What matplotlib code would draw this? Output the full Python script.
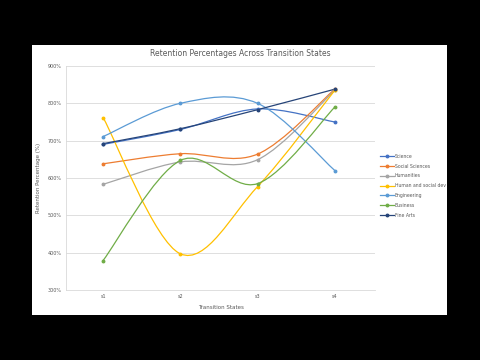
import matplotlib.pyplot as plt
import numpy as np
from matplotlib.patches import PathPatch
from matplotlib.path import Path

states = ["s1", "s2", "s3", "s4"]
science = [690, 730, 785, 750]
social_sciences = [638, 665, 664, 838]
humanities = [583, 643, 649, 835]
human_social_dev = [762, 397, 577, 835]
engineering = [711, 800, 800, 620]
business = [379, 647, 585, 790]
fine_arts = [692, 732, 783, 838]

series_names = ["Science", "Social Sciences", "Humanities", "Human and social dev",
                "Engineering", "Business", "Fine Arts"]
series_values = [science, social_sciences, humanities, human_social_dev,
                 engineering, business, fine_arts]
colors = ["#4472C4", "#ED7D31", "#A5A5A5", "#FFC000", "#5B9BD5", "#70AD47", "#264478"]
y_ticks = [300, 400, 500, 600, 700, 800, 900]


def smooth_path(xs, ys):
    # Catmull-Rom style bezier, like the spreadsheet's smoothed lines
    pts = np.column_stack([xs, ys]).astype(float)
    verts = [pts[0]]
    codes = [Path.MOVETO]
    for i in range(len(pts) - 1):
        p0 = pts[i - 1] if i > 0 else pts[i]
        p1, p2 = pts[i], pts[i + 1]
        p3 = pts[i + 2] if i + 2 < len(pts) else pts[i + 1]
        c1 = p1 + (p2 - p0) / 6.0
        c2 = p2 - (p3 - p1) / 6.0
        verts += [c1, c2, p2]
        codes += [Path.CURVE4] * 3
    return Path(verts, codes)


fig = plt.figure(figsize=(4.8, 3.6), dpi=100)
fig.patch.set_facecolor("black")

# white slide area behind the chart
bg = fig.add_axes([32 / 480, 45 / 360, 415 / 480, 270 / 360], zorder=-1)
bg.set_facecolor("white")
bg.set_xticks([])
bg.set_yticks([])
for s in bg.spines.values():
    s.set_visible(False)

ax = fig.add_axes([66 / 480, 70 / 360, 309 / 480, 224 / 360], zorder=1)
ax.set_facecolor("white")
x = np.arange(len(states))

for name, vals, col in zip(series_names, series_values, colors):
    ax.add_patch(PathPatch(smooth_path(x, vals), facecolor="none", edgecolor=col,
                           linewidth=0.9, zorder=3))
    ax.plot(x, vals, linestyle="none", marker="o", markersize=1.8, color=col, zorder=4)
    ax.plot([], [], color=col, linewidth=0.9, marker="o", markersize=1.8, label=name)

ax.set_xlim(-0.48, 3.52)
ax.set_ylim(300, 900)
ax.set_xticks(x)
ax.set_xticklabels(states)
ax.set_yticks(y_ticks)
ax.set_yticklabels([f"{v}%" for v in y_ticks])
ax.tick_params(axis="both", labelsize=3.5, colors="#595959", length=0, pad=3)
ax.grid(axis="y", color="#D9D9D9", linewidth=0.6)
ax.set_axisbelow(True)
for side in ["top", "right"]:
    ax.spines[side].set_visible(False)
ax.spines["left"].set_color("#D9D9D9")
ax.spines["bottom"].set_color("#D9D9D9")
ax.spines["left"].set_linewidth(0.6)
ax.spines["bottom"].set_linewidth(0.6)

ax.set_xlabel("Transition States", fontsize=4, color="#595959", labelpad=4)
ax.set_ylabel("Retention Percentage (%)", fontsize=4, color="#595959", labelpad=5)
fig.text(240 / 480, 1 - 53 / 360, "Retention Percentages Across Transition States",
         ha="center", va="center", fontsize=5.5, color="#595959")

fig.legend(loc="upper left", bbox_to_anchor=(378 / 480, 1 - 152 / 360), frameon=False,
           fontsize=3.3, labelcolor="#595959", handlelength=3, handletextpad=0.3,
           labelspacing=1.05, borderaxespad=0)

fig.savefig("out.png", dpi=100, facecolor=fig.get_facecolor())
